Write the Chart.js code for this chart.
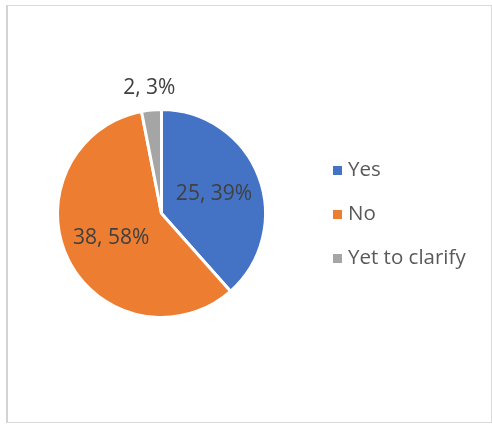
<!DOCTYPE html>
<html>
<head>
<meta charset="utf-8">
<script src="https://cdn.jsdelivr.net/npm/chart.js@4"></script>
<style>
  body { margin: 0; background: #fff; }
  .frame { position: absolute; left: 6px; top: 5px; width: 483px; height: 416px;
    border: 1px solid #d9d9d9; border-left: 2px solid #d4d4d4; }
  canvas { position: absolute; left: 0; top: 0; }
</style>
</head>
<body>
<div class="frame"></div>
<canvas id="chart" width="492" height="424"></canvas>
<script>
const labels = ['Yes', 'No', 'Yet to clarify']
const counts = [25, 38, 2]
// percentages as printed on the original chart
const percents = [39, 58, 3]
const colors = ['#4472C4', '#ED7D31', '#A5A5A5']

const font = '"Open Sans", "Noto Sans", sans-serif'

// value labels: "count, pct%" inside the slice, small ones just outside
const sliceLabels = {
  id: 'sliceLabels',
  afterDatasetsDraw(chart) {
    const ctx = chart.ctx
    const arcs = chart.getDatasetMeta(0).data
    ctx.save()
    ctx.font = '21px ' + font
    ctx.fillStyle = '#404040'
    ctx.textAlign = 'center'
    ctx.textBaseline = 'middle'
    arcs.forEach((arc, i) => {
      const text = counts[i] + ', ' + percents[i] + '%'
      const p = arc.getProps(['x', 'y', 'startAngle', 'endAngle', 'outerRadius'], true)
      const mid = (p.startAngle + p.endAngle) / 2
      let r
      if (percents[i] < 5) {
        r = p.outerRadius + 22
      } else {
        r = p.outerRadius * 0.54
      }
      ctx.fillText(text, p.x + Math.cos(mid) * r, p.y + Math.sin(mid) * r)
    })
    ctx.restore()
  }
}

// legend on the right, square markers like the original
const sideLegend = {
  id: 'sideLegend',
  afterDraw(chart) {
    const ctx = chart.ctx
    ctx.save()
    ctx.font = '20.5px ' + font
    ctx.textBaseline = 'middle'
    labels.forEach((lab, i) => {
      const y = 170 + i * 44
      ctx.fillStyle = colors[i]
      ctx.fillRect(333, y - 4, 9, 9)
      ctx.fillStyle = '#595959'
      ctx.fillText(lab, 348, y)
    })
    ctx.restore()
  }
}

const ctx = document.getElementById('chart').getContext('2d')

const myChart = new Chart(ctx, {
  type: 'pie',
  data: {
    labels: labels,
    datasets: [{
      data: counts,
      backgroundColor: colors,
      borderColor: '#ffffff',
      borderWidth: 3
    }]
  },
  options: {
    responsive: false,
    animation: false,
    layout: {
      padding: { left: 56, right: 225, top: 108, bottom: 105 }
    },
    plugins: {
      legend: { display: false },
      tooltip: { enabled: false }
    }
  },
  plugins: [sliceLabels, sideLegend]
})
</script>
</body>
</html>
